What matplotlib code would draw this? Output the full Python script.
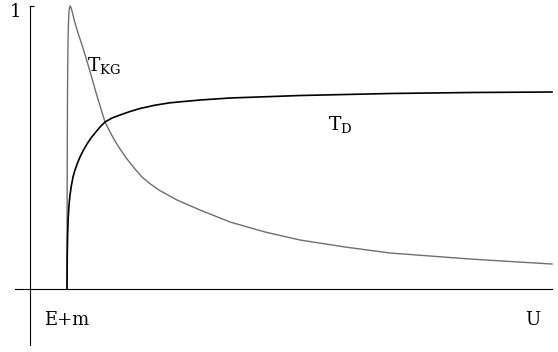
import matplotlib
matplotlib.use("Agg")
import matplotlib.pyplot as plt
from matplotlib.transforms import ScaledTranslation

# Transmission coefficients past the Klein threshold U = E+m
u_kg = [1.0000, 1.0013, 1.0040, 1.0080, 1.0134, 1.0188, 1.0268, 1.0375, 1.0509,
        1.0643, 1.0804, 1.1072, 1.1340, 1.1742, 1.2144, 1.2948, 1.4020, 1.5092,
        1.5896, 1.6969, 1.8041, 1.9113, 2.0185, 2.1525, 2.2865, 2.4205, 2.6081,
        2.8225, 3.0101, 3.2246, 3.4926, 3.9482, 4.5647, 5.3687, 6.3068, 7.2449,
        8.4510, 9.6570, 10.7291, 11.8012, 12.8733, 14.0000]
t_kg = [0.0000, 0.1731, 0.3498, 0.5265, 0.6855, 0.7915, 0.8728, 0.9329, 0.9753,
        0.9929, 1.0000, 0.9947, 0.9823, 0.9611, 0.9399, 0.9046, 0.8622, 0.8163,
        0.7809, 0.7314, 0.6820, 0.6360, 0.5901, 0.5548, 0.5230, 0.4947, 0.4594,
        0.4240, 0.3958, 0.3720, 0.3475, 0.3145, 0.2792, 0.2367, 0.2014, 0.1731,
        0.1484, 0.1272, 0.1166, 0.1060, 0.0972, 0.0883]

u_d = [1.0000, 1.0054, 1.0161, 1.0322, 1.0536, 1.0804, 1.1153, 1.1608, 1.2144,
       1.2814, 1.3484, 1.4422, 1.5360, 1.6432, 1.7505, 1.8845, 2.0185, 2.2061,
       2.4205, 2.6885, 2.9566, 3.3586, 3.7606, 4.5647, 5.3687, 7.2449, 9.6570,
       11.8012, 14.0000]
t_d = [0.0000, 0.1095, 0.1908, 0.2509, 0.2968, 0.3322, 0.3640, 0.3958, 0.4205,
       0.4452, 0.4664, 0.4912, 0.5124, 0.5336, 0.5512, 0.5724, 0.5901, 0.6042,
       0.6148, 0.6272, 0.6378, 0.6495, 0.6580, 0.6678, 0.6749, 0.6837, 0.6908,
       0.6943, 0.6961]

x_ticks = [1.0, 13.49]
x_labels = ["E+m", "U"]
y_ticks = [1.0]
y_labels = ["1"]

FONT = "DejaVu Serif"
plt.rcParams["mathtext.fontset"] = "custom"
plt.rcParams["mathtext.rm"] = FONT
plt.rcParams["mathtext.it"] = FONT

fig = plt.figure(figsize=(5.58, 3.52), dpi=100)
ax = fig.add_axes([0, 0, 1, 1])
ax.set_xlim(-0.796, 14.16)
ax.set_ylim(-0.2226, 1.0212)

ax.plot(u_kg, t_kg, color="#6e6e6e", lw=1.0, solid_joinstyle="round")
ax.plot(u_d, t_d, color="black", lw=1.2, solid_joinstyle="round")

for side in ("top", "right"):
    ax.spines[side].set_visible(False)
ax.spines["left"].set_position(("data", 0))
ax.spines["bottom"].set_position(("data", 0))
ax.spines["left"].set_bounds(-0.198, 1.0)
ax.spines["bottom"].set_bounds(-0.394, 14.0)
for side in ("left", "bottom"):
    ax.spines[side].set_linewidth(0.8)

ax.set_xticks(x_ticks)
ax.set_xticklabels(x_labels, fontfamily=FONT, fontsize=13)
ax.tick_params(axis="x", length=0, pad=16)
ax.set_yticks(y_ticks)
ax.set_yticklabels(y_labels, fontfamily=FONT, fontsize=13)
ax.tick_params(axis="y", direction="in", length=3, width=0.8, pad=6)
for lab in ax.get_yticklabels():
    lab.set_transform(lab.get_transform() + ScaledTranslation(0, -0.045, fig.dpi_scale_trans))

ax.text(1.536, 0.770, r"$\mathrm{T_{KG}}$", fontsize=13.5, ha="left", va="baseline")
ax.text(7.995, 0.562, r"$\mathrm{T_{D}}$", fontsize=13.5, ha="left", va="baseline")

fig.savefig("out.png", dpi=100)
